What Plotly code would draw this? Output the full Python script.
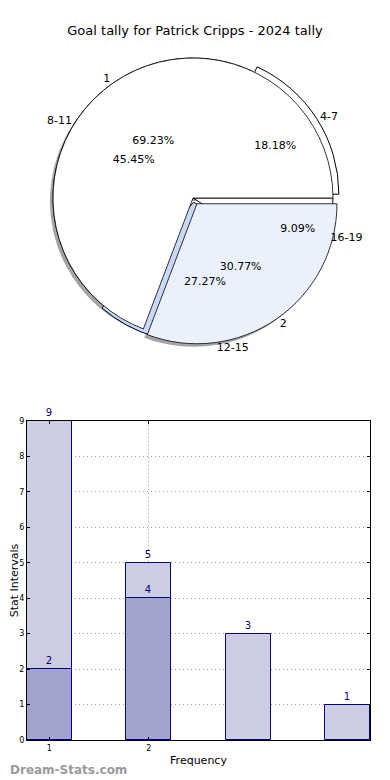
import plotly.graph_objects as go

# ---------------- data ----------------
title_text = "Goal tally for Patrick Cripps - 2024 tally"

pie1_labels = ["1", "2"]
pie1_values = [9, 4]

pie2_labels = ["4-7", "8-11", "12-15", "16-19"]
pie2_values = [2, 5, 3, 1]

bar_x = [1, 2, 3, 4]
bar_light = [9, 5, 3, 1]
bar_dark_x = [1, 2]
bar_dark = [2, 4]

x_tick_vals = [1, 2]
x_tick_text = ["1", "2"]
y_tick_vals = list(range(0, 10))

# ---------------- style ----------------
FONT = "DejaVu Sans"
OFF = 8                      # page body margin of the browser
W, H = 390 - OFF, 780 - OFF  # figure size so the page fits the window


def px(X):
    return (X - OFF) / W


def py(Y):
    return 1 - (Y - OFF) / H


cx, cy, half = 193, 198, 147


def dom(dx=0, dy=0):
    return dict(x=[px(cx - half + dx), px(cx + half + dx)],
                y=[py(cy + half + dy), py(cy - half + dy)])


TRANSP = "rgba(0,0,0,0)"


def start_east_ccw(values):
    # plotly places the first counterclockwise slice clockwise of `rotation`;
    # shift so the first slice starts at 3 o'clock and runs counterclockwise
    return 90 + 360.0 * (1 - values[0] / sum(values)) - 360


def common(values, d=None):
    return dict(sort=False, direction="counterclockwise",
                rotation=start_east_ccw(values),
                domain=d if d is not None else dom(),
                showlegend=False, hoverinfo="skip")


pull1 = [0, 0.05]
pull2 = [0.05, 0, 0.03, 0]

fig = go.Figure()

# shadow
fig.add_trace(go.Pie(labels=pie1_labels, values=pie1_values,
                     marker=dict(colors=["rgba(90,90,90,0.55)"] * 2, line=dict(width=0)),
                     pull=pull1, textinfo="none", **common(pie1_values, dom(-3, 3))))
# pie 2 base (drawn underneath)
fig.add_trace(go.Pie(labels=pie2_labels, values=pie2_values,
                     marker=dict(colors=["white", "white", "#c8d9f9", "white"],
                                 line=dict(color="black", width=1)),
                     pull=pull2, textinfo="none", **common(pie2_values)))
# pie 1 base
fig.add_trace(go.Pie(labels=pie1_labels, values=pie1_values,
                     marker=dict(colors=["white", "#eaf0fc"],
                                 line=dict(color="black", width=0.8)),
                     pull=pull1, textinfo="none", **common(pie1_values)))
# percent texts
for labs, vals, pull in [(pie1_labels, pie1_values, pull1),
                         (pie2_labels, pie2_values, pull2)]:
    fig.add_trace(go.Pie(labels=labs, values=vals,
                         marker=dict(colors=[TRANSP] * len(vals), line=dict(width=0)),
                         pull=pull, texttemplate="%{percent:.2%}",
                         textposition="inside", insidetextorientation="horizontal",
                         textfont=dict(family=FONT, size=11, color="black"), **common(vals)))
# outside labels
for labs, vals, pull in [(pie1_labels, pie1_values, pull1),
                         (pie2_labels, pie2_values, pull2)]:
    fig.add_trace(go.Pie(labels=labs, values=vals,
                         marker=dict(colors=[TRANSP] * len(vals), line=dict(width=0)),
                         pull=pull, texttemplate="%{label}",
                         textposition="outside",
                         textfont=dict(family=FONT, size=11, color="black"), **common(vals)))

# ---------------- bars ----------------
fig.add_trace(go.Bar(x=bar_x, y=bar_light, width=0.45,
                     marker=dict(color="#ccccE3", line=dict(color="#000080", width=1)),
                     text=[str(v) for v in bar_light], textposition="outside",
                     textfont=dict(family=FONT, size=10, color="#000080"),
                     cliponaxis=False, xaxis="x", yaxis="y", showlegend=False))
fig.add_trace(go.Bar(x=bar_dark_x, y=bar_dark, width=0.45,
                     marker=dict(color="#a3a3cf", line=dict(color="#000080", width=1)),
                     text=[str(v) for v in bar_dark], textposition="outside",
                     textfont=dict(family=FONT, size=10, color="#000080"),
                     cliponaxis=False, xaxis="x", yaxis="y", showlegend=False))

axis_common = dict(showline=True, mirror="ticks", linecolor="black", linewidth=1,
                   showgrid=True, gridcolor="#9a9a9a", griddash="1px,3px", gridwidth=1,
                   zeroline=False, ticks="inside", ticklen=3, tickcolor="black",
                   automargin=False,
                   tickfont=dict(family=FONT, size=8, color="black"))

fig.update_layout(
    width=W, height=H,
    margin=dict(l=0, r=0, t=0, b=0),
    paper_bgcolor="white", plot_bgcolor="white",
    barmode="overlay", bargap=0,
    font=dict(family=FONT, color="black"),
    title=dict(text=title_text, x=px(195), xanchor="center", y=py(30), yanchor="middle",
               font=dict(family=FONT, size=13, color="black")),
    xaxis=dict(domain=[px(27), px(370)], range=[0.775, 4.225],
               tickvals=x_tick_vals, ticktext=x_tick_text,
               title=dict(text="Frequency", standoff=4, font=dict(family=FONT, size=11)),
               anchor="y", **axis_common),
    yaxis=dict(domain=[py(740), py(421)], range=[0, 9],
               tickvals=y_tick_vals,
               title=dict(text="Stat Intervals", standoff=2, font=dict(family=FONT, size=11)),
               anchor="x", **axis_common),
    annotations=[dict(text="<b>Dream-Stats.com</b>", x=px(8), y=py(770),
                      xref="paper", yref="paper", xanchor="left", yanchor="middle",
                      showarrow=False, font=dict(family=FONT, size=12, color="#9a9a9a"))],
)

fig.write_html("out.html")
